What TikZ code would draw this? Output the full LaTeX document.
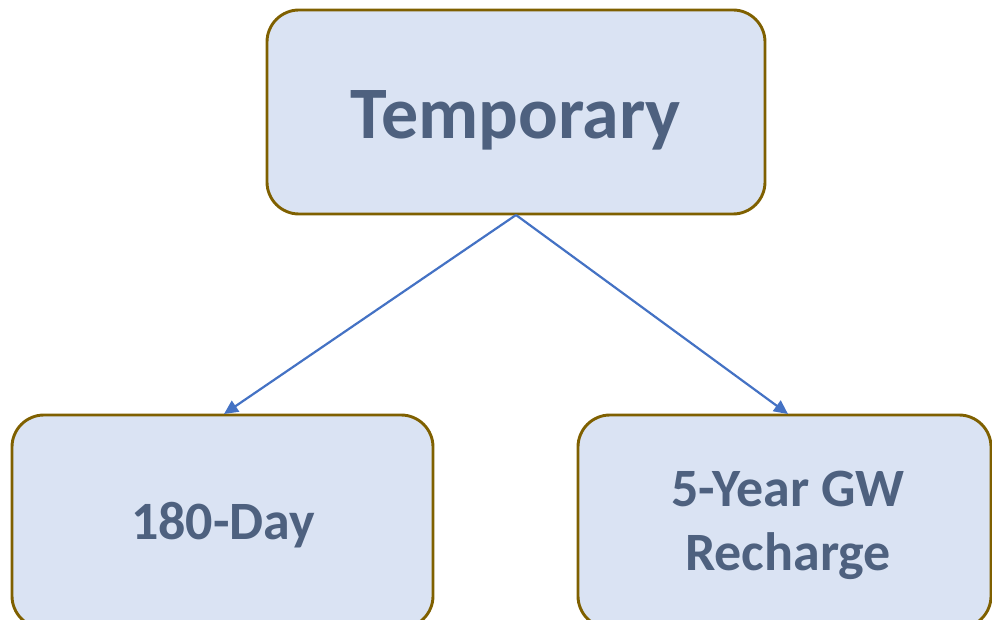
\documentclass[tikz,border=0pt]{standalone}
\usepackage{fontspec}
\setmainfont{Carlito}
\usetikzlibrary{arrows.meta}
\definecolor{boxfill}{HTML}{DAE3F3}
\definecolor{boxdraw}{HTML}{7F6000}
\definecolor{txt}{HTML}{4E617F}
\definecolor{arr}{HTML}{4472C4}
\tikzset{
  box/.style={draw=boxdraw, line width=2.9pt, fill=boxfill, rounded corners=32pt},
  lbl/.style={text=txt, font=\bfseries, align=center},
  conn/.style={draw=arr, line width=2.2pt, -{Triangle[length=14pt,width=13pt]}}
}
\begin{document}
\begin{tikzpicture}[x=1pt,y=-1pt]
\useasboundingbox (0,0) rectangle (992,620);
\clip (0,0) rectangle (992,620);
\draw[box] (267,10) rectangle (765,214);
\draw[box] (12,415) rectangle (433,628);
\draw[box] (578,415) rectangle (991,628);
\node[lbl, font=\fontsize{74}{88}\bfseries] (top) at (516,120) {Temporary};
\node[lbl, font=\fontsize{54}{64}\bfseries] (left) at (223,525) {180-Day};
\node[lbl, font=\fontsize{54}{64}\bfseries] (right) at (788,525) {5-Year GW\\Recharge};
\coordinate (s) at (516,215);
\coordinate (lt) at (224,414);
\coordinate (rt) at (788,414);
\draw[conn] (s) -- (lt);
\draw[conn] (s) -- (rt);
\end{tikzpicture}
\end{document}
